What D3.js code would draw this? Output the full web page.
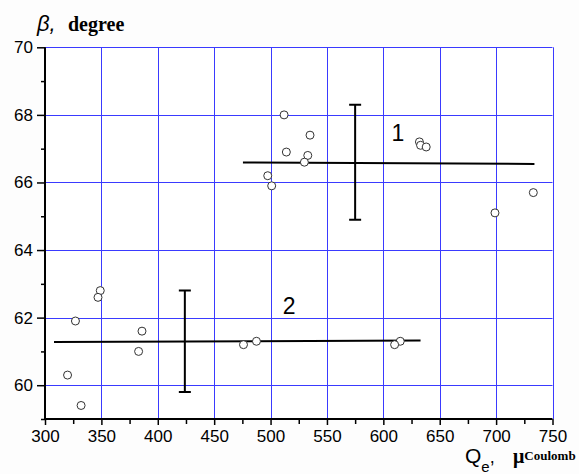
<!DOCTYPE html>
<html>
<head>
<meta charset="utf-8">
<script src="https://cdn.jsdelivr.net/npm/d3@7"></script>
<style>
  body { margin: 0; background: #fdfdfd; }
  svg { display: block; }
</style>
</head>
<body>
<div class="chart"></div>
<script>
// Width and height
var w = 579;
var h = 474;

// data: measured points (Q_e, beta)
const upperQ = [512, 535, 514, 533, 530, 497.5, 501, 632, 633, 638, 733, 699];
const upperB = [68.0, 67.4, 66.9, 66.8, 66.6, 66.2, 65.9, 67.2, 67.1, 67.05, 65.7, 65.1];
const lowerQ = [349, 347, 327, 386, 383, 320, 332, 476, 487.5, 615, 610];
const lowerB = [62.8, 62.6, 61.9, 61.6, 61.0, 60.3, 59.4, 61.2, 61.3, 61.3, 61.2];

// mean crosses: [x1, x2, y1, y2] for horizontal, [x, yLow, yHigh] for the error bar
const crossNames = ["1", "2"];
const crossH = [[475.5, 734, 66.59, 66.55], [308, 633, 61.28, 61.32]];
const crossV = [[575, 64.9, 68.3], [424, 59.8, 62.8]];
const crossLabel = [[613, 67.46], [516.5, 62.33]];

const xTicks = [300, 350, 400, 450, 500, 550, 600, 650, 700, 750];
const yTicks = [60, 62, 64, 66, 68, 70];

const x = d3.scaleLinear().domain([300, 750]).range([45, 552.5]);
const y = d3.scaleLinear().domain([59, 70]).range([419, 47.3]);

const svg = d3.select(".chart")
  .append("svg")
  .attr("width", w)
  .attr("height", h);

svg.append("rect").attr("width", w).attr("height", h).attr("fill", "#fdfdfd");
svg.append("rect")
  .attr("x", x(300)).attr("y", y(70))
  .attr("width", x(750) - x(300)).attr("height", y(59) - y(70))
  .attr("fill", "#ffffff");

// grid
const grid = svg.append("g").attr("stroke", "#3a3aff").attr("stroke-width", 1);
grid.selectAll(".gx")
  .data(xTicks.slice(1))
  .enter().append("line")
  .attr("x1", d => Math.round(x(d)) + 0.5).attr("x2", d => Math.round(x(d)) + 0.5)
  .attr("y1", y(70)).attr("y2", y(59));
grid.selectAll(".gy")
  .data(yTicks)
  .enter().append("line")
  .attr("y1", d => Math.round(y(d)) + 0.5).attr("y2", d => Math.round(y(d)) + 0.5)
  .attr("x1", x(300)).attr("x2", x(750));

// axes
const xAxis = svg.append("g")
  .attr("transform", `translate(0,${y(59)})`)
  .call(d3.axisBottom(x).tickValues(xTicks).tickSize(6).tickPadding(5));
svg.append("g")
  .attr("transform", `translate(0,${y(59)})`)
  .call(d3.axisBottom(x).tickValues(d3.range(325, 750, 50)).tickSize(5).tickFormat(""))
  .call(g => g.select(".domain").remove());

const yAxis = svg.append("g")
  .attr("transform", `translate(${x(300)},0)`)
  .call(d3.axisLeft(y).tickValues(yTicks).tickSize(8).tickPadding(4));
svg.append("g")
  .attr("transform", `translate(${x(300)},0)`)
  .call(d3.axisLeft(y).tickValues(d3.range(59, 70, 2)).tickSize(4).tickFormat(""))
  .call(g => g.select(".domain").remove());

svg.selectAll(".domain").attr("stroke", "#000").attr("stroke-width", 2);
svg.selectAll(".tick line").attr("stroke", "#000").attr("stroke-width", 1.5);
svg.selectAll(".tick text")
  .attr("font-family", "Liberation Sans, Arial, sans-serif")
  .attr("font-size", 17)
  .attr("fill", "#000");
xAxis.selectAll(".domain").attr("d", `M${x(300)},0H${x(750)}`);
yAxis.selectAll(".domain").attr("d", `M0,${y(59)}V${y(70)}`);

// mean crosses
const cross = svg.append("g").attr("stroke", "#000").attr("stroke-width", 2);
cross.selectAll(".hl")
  .data(crossH)
  .enter().append("line")
  .attr("x1", d => x(d[0])).attr("x2", d => x(d[1]))
  .attr("y1", d => y(d[2])).attr("y2", d => y(d[3]));
cross.selectAll(".vl")
  .data(crossV)
  .enter().append("path")
  .attr("fill", "none")
  .attr("d", d => `M${x(d[0])},${y(d[1])}V${y(d[2])}M${x(d[0]) - 6},${y(d[1])}h12M${x(d[0]) - 6},${y(d[2])}h12`);

svg.selectAll(".clabel")
  .data(crossNames)
  .enter().append("text")
  .attr("x", (d, i) => x(crossLabel[i][0]))
  .attr("y", (d, i) => y(crossLabel[i][1]) + 8)
  .attr("text-anchor", "middle")
  .attr("font-family", "Liberation Sans, Arial, sans-serif")
  .attr("font-size", 23)
  .text(d => d);

// points
const pts = upperQ.map((q, i) => [q, upperB[i]])
  .concat(lowerQ.map((q, i) => [q, lowerB[i]]));
svg.selectAll("circle")
  .data(pts)
  .enter().append("circle")
  .attr("cx", d => x(d[0]))
  .attr("cy", d => y(d[1]))
  .attr("r", 4)
  .attr("fill", "#fff")
  .attr("stroke", "#333")
  .attr("stroke-width", 1);

// axis titles
const yt = svg.append("text").attr("x", 37).attr("y", 31);
yt.append("tspan")
  .attr("font-family", "Liberation Sans, Arial, sans-serif")
  .attr("font-style", "italic").attr("font-size", 22).text("β,");
yt.append("tspan").attr("x", 68)
  .attr("font-family", "Liberation Serif, Times New Roman, serif")
  .attr("font-weight", "bold").attr("font-size", 20).text("degree");

const xt = svg.append("text").attr("x", 465).attr("y", 463);
xt.append("tspan")
  .attr("font-family", "Liberation Sans, Arial, sans-serif")
  .attr("font-size", 21).text("Q");
xt.append("tspan").attr("dy", 9)
  .attr("font-family", "Liberation Sans, Arial, sans-serif")
  .attr("font-size", 15).text("e");
xt.append("tspan").attr("dy", -9)
  .attr("font-family", "Liberation Sans, Arial, sans-serif")
  .attr("font-size", 18).text(",");
xt.append("tspan").attr("x", 513)
  .attr("font-family", "Liberation Serif, Times New Roman, serif")
  .attr("font-weight", "bold").attr("font-size", 20).text("μ");
xt.append("tspan").attr("dy", -3)
  .attr("font-family", "Liberation Serif, Times New Roman, serif")
  .attr("font-weight", "bold").attr("font-size", 13).text("Coulomb");
</script>
</body>
</html>
